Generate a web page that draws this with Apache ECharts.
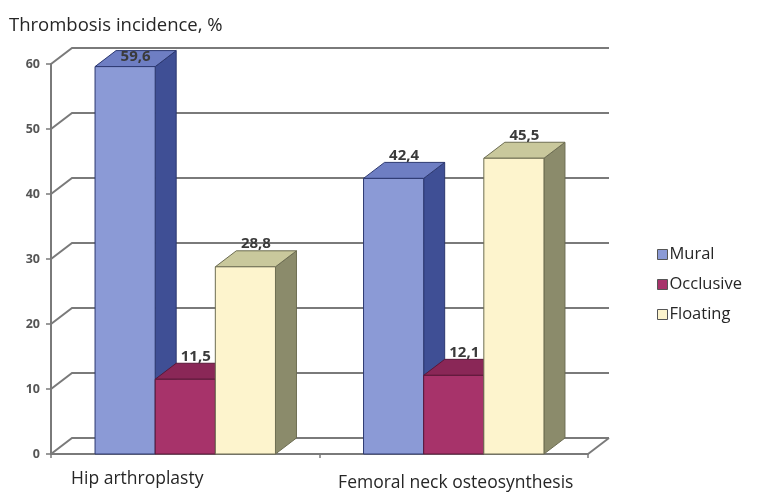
<!DOCTYPE html>
<html><head><meta charset="utf-8">
<script src="https://cdn.jsdelivr.net/npm/echarts@6/dist/echarts.min.js"></script>
<style>html,body{margin:0;padding:0;background:#fff}#c{width:763px;height:492px}</style>
</head><body><div id="c"></div>
<script>
const categories = ['Hip arthroplasty', 'Femoral neck osteosynthesis'];
const seriesNames = ['Mural', 'Occlusive', 'Floating'];
const mural = [59.6, 42.4];
const occlusive = [11.5, 12.1];
const floating = [28.8, 45.5];
const yTicks = [0, 10, 20, 30, 40, 50, 60];

const palette = {
  Mural:     {front:'#8b9ad6', top:'#6e7ec3', side:'#3f4f95', edge:'#2c3870'},
  Occlusive: {front:'#a7336a', top:'#8a2757', side:'#6b1d43', edge:'#5a1838'},
  Floating:  {front:'#fdf4cd', top:'#c9c89c', side:'#8b8b6b', edge:'#6d6d52'}
};
const DX = 21, DY = -16;
const FONT = '"Open Sans", "DejaVu Sans", sans-serif';

function barRender(sIdx) {
  return function (params, api) {
    const cat = api.value(0), v = api.value(1);
    const base = api.coord([cat, 0]);
    const topP = api.coord([cat, v]);
    const band = api.size([1, 0])[0];
    const w = band * 0.224;
    const x0 = base[0] - 1.5 * w + sIdx * w;
    const x1 = x0 + w;
    const yb = base[1], yt = topP[1];
    const c = palette[seriesNames[sIdx]];
    const label = String(v).replace('.', ',');
    let ly = yt + DY / 2 - 15;
    ly = Math.max(ly, 57);
    return {type: 'group', children: [
      {type: 'polygon', shape: {points: [[x1, yb], [x1 + DX, yb + DY], [x1 + DX, yt + DY], [x1, yt]]},
        style: {fill: c.side, stroke: c.edge, lineWidth: 1}},
      {type: 'polygon', shape: {points: [[x0, yt], [x1, yt], [x1 + DX, yt + DY], [x0 + DX, yt + DY]]},
        style: {fill: c.top, stroke: c.edge, lineWidth: 1}},
      {type: 'rect', shape: {x: x0, y: yt, width: w, height: yb - yt},
        style: {fill: c.front, stroke: c.edge, lineWidth: 1}},
      {type: 'text', x: x0 + w / 2 + DX / 2, y: ly,
        style: {text: label, align: 'center', verticalAlign: 'middle',
          font: 'bold 15px ' + FONT, fill: '#3a3a3a'}}
    ]};
  };
}

function wallRender(params, api) {
  const v = api.value(1);
  const cs = params.coordSys;
  const y = api.coord([0, v])[1];
  const xl = cs.x, xr = cs.x + cs.width;
  const ls = {stroke: '#7a7a7a', lineWidth: 2, fill: null};
  const children = [
    {type: 'polyline', shape: {points: [[xl, y], [xl + DX, y + DY], [xr + DX, y + DY]]}, style: ls}
  ];
  if (v === 0) {
    children.push({type: 'line', shape: {x1: xr, y1: y, x2: xr + DX, y2: y + DY}, style: ls});
  }
  return {type: 'group', children: children};
}

const values = [mural, occlusive, floating];
const series = [{
  type: 'custom', name: '_walls', silent: true, z: 1,
  renderItem: wallRender,
  data: yTicks.map(v => [0, v])
}];
seriesNames.forEach((n, i) => {
  series.push({
    type: 'custom', name: n, z: 3,
    itemStyle: {color: palette[n].front, borderColor: palette[n].edge, borderWidth: 1},
    renderItem: barRender(i),
    data: values[i].map((v, k) => [k, v])
  });
});

const chart = echarts.init(document.getElementById('c'), null, {renderer: 'canvas'});
chart.setOption({
  animation: false,
  backgroundColor: '#fff',
  title: {text: 'Thrombosis incidence, %', left: 4, top: 11,
    textStyle: {fontSize: 18.5, fontWeight: 'normal', color: '#262626', fontFamily: FONT}},
  legend: {
    orient: 'vertical', left: 652, top: 241, itemWidth: 10, itemHeight: 10, itemGap: 13,
    icon: 'rect',
    data: seriesNames.map(n => ({name: n, itemStyle: {color: palette[n].front, borderColor: '#555', borderWidth: 1}})),
    textStyle: {fontSize: 16.5, color: '#262626', fontFamily: FONT, padding: [0, 0, 0, -3]}
  },
  grid: {left: 51, top: 64, width: 537, height: 391, containLabel: false},
  xAxis: {
    type: 'category', data: categories,
    axisLine: {lineStyle: {color: '#7a7a7a', width: 2}},
    axisTick: {show: true, length: 4, lineStyle: {color: '#7a7a7a', width: 1.5}},
    axisLabel: {
      interval: 0, hideOverlap: false,
      margin: 16, fontSize: 17.5, color: '#262626', fontFamily: FONT,
      formatter: (v, i) => i === 0 ? '{a|' + v + '}' : '{b|' + v + '}',
      rich: {
        a: {fontSize: 17.5, color: '#262626', fontFamily: FONT, padding: [0, 96, 0, 0]},
        b: {fontSize: 17.5, color: '#262626', fontFamily: FONT, padding: [4, 0, 0, 4]}
      }
    }
  },
  yAxis: {
    type: 'value', min: 0, max: 60, interval: 10,
    axisLine: {show: true, lineStyle: {color: '#7a7a7a', width: 2}},
    axisTick: {show: true, length: 5, lineStyle: {color: '#7a7a7a', width: 1.5}},
    splitLine: {show: false},
    axisLabel: {margin: 11, fontSize: 12.5, fontWeight: 'bold', color: '#555', fontFamily: FONT}
  },
  series: series
});
</script></body></html>
